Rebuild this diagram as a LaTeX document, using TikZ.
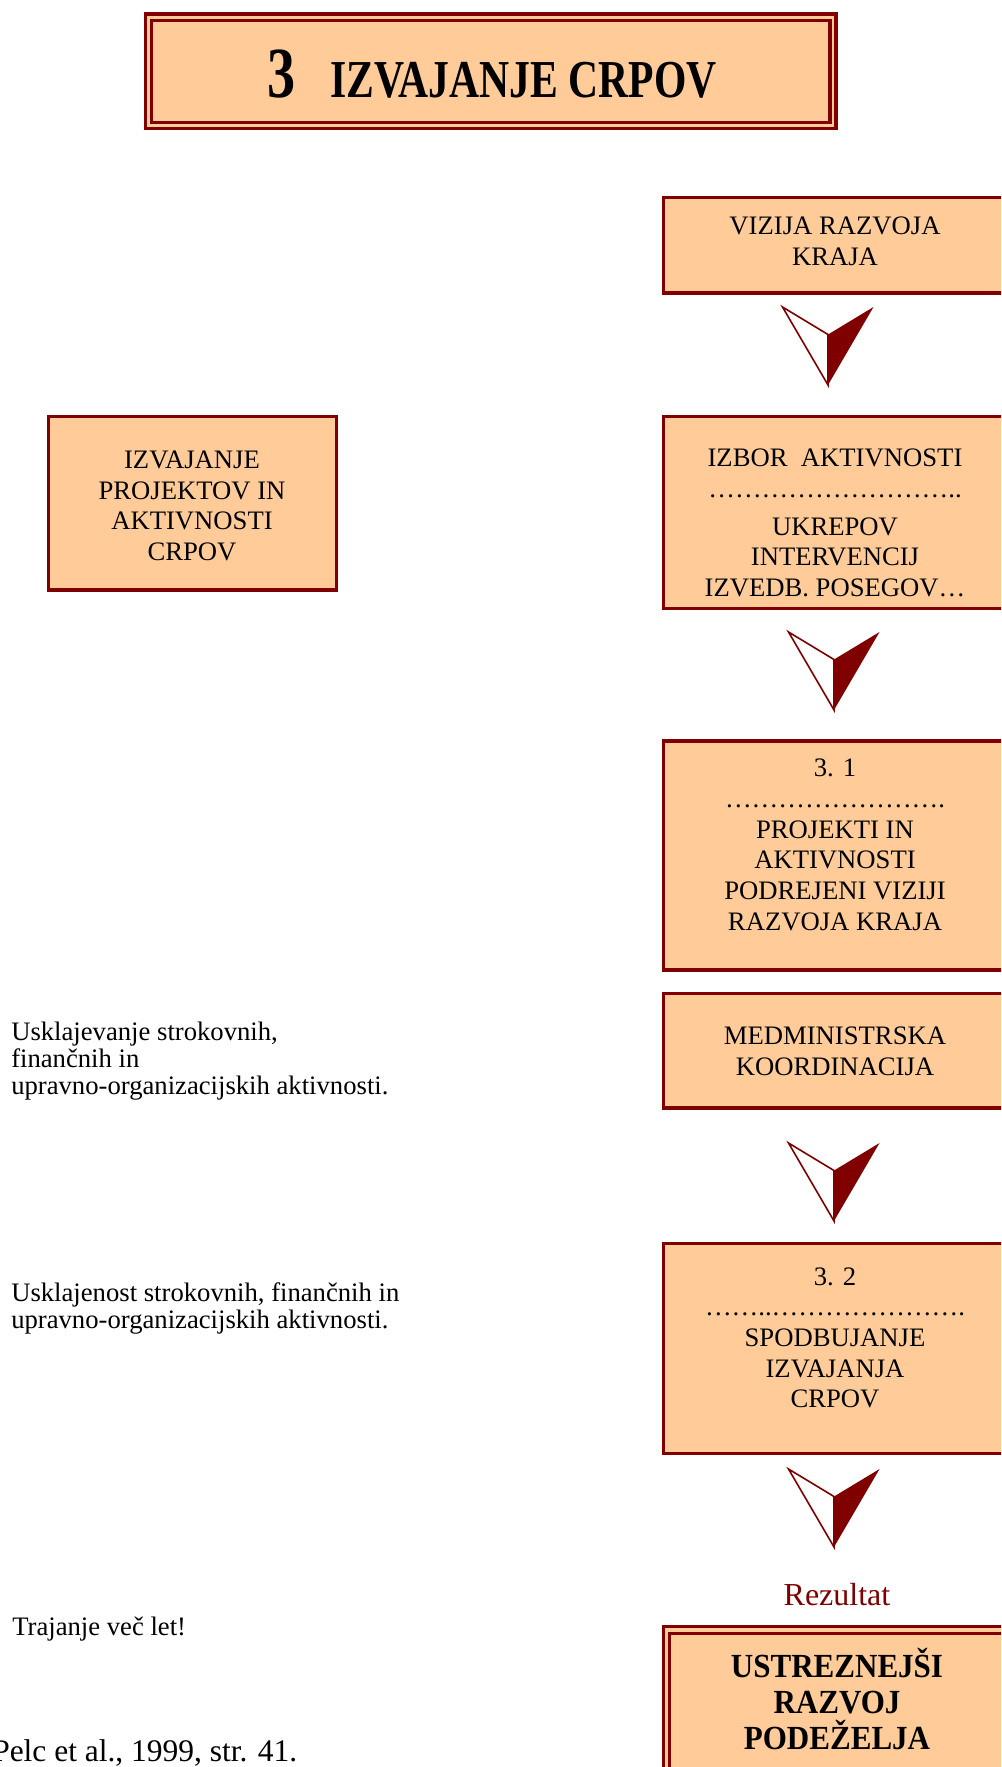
\documentclass[tikz,border=0pt]{standalone}
\usepackage{fontspec}
\setmainfont{Liberation Serif}
\newfontfamily\titlefont[FakeStretch=0.78]{Liberation Serif}
\newfontfamily\resfont[FakeStretch=0.92]{Liberation Serif}
\definecolor{peach}{RGB}{255,204,153}
\definecolor{dred}{RGB}{128,0,0}
\tikzset{
	box/.style={fill=peach, draw=dred, line width=2.5pt},
	boxtxt/.style={align=center, inner sep=0pt, font=\fontsize{20}{23}\selectfont},
	lefttxt/.style={align=left, inner sep=0pt, anchor=north west, font=\fontsize{20}{20}\selectfont}
}
\begin{document}
\begin{tikzpicture}[x=0.75pt, y=-0.75pt, line join=miter]
	\useasboundingbox (0,0) rectangle (1001,1767);
	\clip (0,0) rectangle (1001,1767);
	
	% naslov
	\filldraw[fill=peach, draw=dred, line width=2.3pt] (145.5,14) rectangle (836,128.3);
	\draw[dred, line width=2.5pt] (151.5,20.7) rectangle (830,122.3);
	\node[anchor=base, inner sep=0pt] (naslov) at (492,97) {\titlefont\bfseries\fontsize{54}{54}\selectfont 3\hspace{26pt}\fontsize{40}{40}\selectfont IZVAJANJE CRPOV};
	
	% levi okvir
	\draw[box] (48.3,416.7) rectangle (336.7,590);
	\node[boxtxt] (izvajanje) at (192,506) {IZVAJANJE\\PROJEKTOV IN\\AKTIVNOSTI\\CRPOV};
	
	% desni stolpec
	\draw[box] (663.3,197.7) rectangle (1010,293);
	\node[boxtxt] (vizija) at (835,241) {VIZIJA RAZVOJA\\KRAJA};
	
	\draw[box] (663.3,416.7) rectangle (1010,608.3);
	\node[boxtxt] (izbor) at (835,523) {IZBOR\ \ AKTIVNOSTI\\………………………..\\[5.5pt]UKREPOV\\INTERVENCIJ\\IZVEDB. POSEGOV…};
	
	\draw[box] (663.3,741) rectangle (1010,970);
	\node[boxtxt] (projekti) at (835,845) {3. 1\\…………………….\\PROJEKTI IN\\AKTIVNOSTI\\PODREJENI VIZIJI\\RAZVOJA KRAJA};
	
	\draw[box] (663.3,993.3) rectangle (1010,1108);
	\node[boxtxt] (medmin) at (835,1051) {MEDMINISTRSKA\\KOORDINACIJA};
	
	\draw[box] (663.3,1243.3) rectangle (1010,1453.3);
	\node[boxtxt] (spodbujanje) at (835,1338) {3. 2\\……..………………….\\SPODBUJANJE\\IZVAJANJA\\CRPOV};
	
	% puscice
	\foreach \sx/\sy in {828/307, 834/632, 834/1143, 834/1469}{
		\filldraw[fill=white, draw=dred, line width=1.2pt] (\sx-45.5,\sy) -- (\sx,\sy+27.5) -- (\sx,\sy+78) -- cycle;
		\fill[dred] (\sx,\sy+27.5) -- (\sx+45.5,\sy) -- (\sx,\sy+78) -- cycle;
	}
	
	% rezultat
	\node[anchor=base, inner sep=0pt, text=dred, font=\fontsize{24}{24}\selectfont] (rezultat) at (837,1605) {Rezultat};
	\filldraw[fill=peach, draw=dred, line width=2.5pt] (663.3,1626.7) rectangle (1015,1780);
	\draw[dred, line width=2pt] (669.5,1633.8) rectangle (1012,1775);
	\node[boxtxt, font=\resfont\bfseries\fontsize{25.3}{27}\selectfont] (podezelje) at (837,1699) {USTREZNEJŠI\\RAZVOJ\\PODEŽELJA};
	
	% besedila levo
	\node[lefttxt] (usklajevanje) at (11,1022) {Usklajevanje strokovnih,\\finančnih in\\upravno-organizacijskih aktivnosti.};
	\node[lefttxt] (usklajenost) at (11,1282.5) {Usklajenost strokovnih, finančnih in\\upravno-organizacijskih aktivnosti.};
	\node[anchor=base west, inner sep=0pt, font=\fontsize{20}{20}\selectfont] (trajanje) at (12,1635) {Trajanje več let!};
	\node[anchor=base west, inner sep=0pt, font=\fontsize{23.6}{24}\selectfont] (vir) at (-8,1761) {Pelc et al., 1999, str. 41.};
\end{tikzpicture}
\end{document}
